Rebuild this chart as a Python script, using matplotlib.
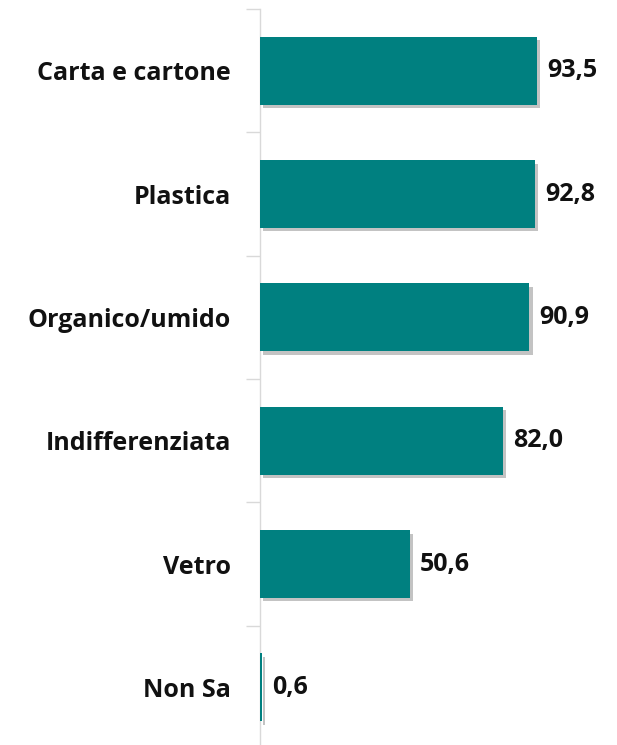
import matplotlib.pyplot as plt
import matplotlib.patheffects as pe

categories = ["Carta e cartone", "Plastica", "Organico/umido", "Indifferenziata", "Vetro", "Non Sa"]
values = [93.5, 92.8, 90.9, 82.0, 50.6, 0.6]
labels = ["93,5", "92,8", "90,9", "82,0", "50,6", "0,6"]

plt.rcParams['font.family'] = ['Open Sans', 'DejaVu Sans']

fig = plt.figure(figsize=(6.17, 7.45), dpi=100)
# plot area in pixels: x 260..556, y 9..749 (bottom slightly cropped)
ax = fig.add_axes([260 / 617, (745 - 749) / 745, 296 / 617, 740 / 745])

n = len(categories)
ypos = list(range(n))
bars = ax.barh(ypos, values, height=0.55, color="#008080", zorder=3)
for b in bars:
    b.set_path_effects([pe.SimplePatchShadow(offset=(2.5, -2.5), shadow_rgbFace="#888888", alpha=0.5),
                        pe.Normal()])

for y, v, lab in zip(ypos, values, labels):
    ax.text(v + 3.4, y, lab, va="center", ha="left", fontsize=18, fontweight="bold", color="#111111")

ax.set_xlim(0, 100)
ax.set_ylim(n - 0.5, -0.5)
ax.set_yticks([i - 0.5 for i in range(n + 1)])
ax.set_yticklabels([])
ax.set_yticks(ypos, minor=True)
ax.set_yticklabels(categories, minor=True, fontsize=18, fontweight="bold", color="#111111")
ax.tick_params(axis="y", which="major", length=10, color="#d9d9d9", width=1)
ax.tick_params(axis="y", which="minor", length=0, pad=21)
ax.set_xticks([])
for s in ["top", "right", "bottom"]:
    ax.spines[s].set_visible(False)
ax.spines["left"].set_color("#d9d9d9")
ax.spines["left"].set_linewidth(1)

fig.savefig("out.png", dpi=100)
